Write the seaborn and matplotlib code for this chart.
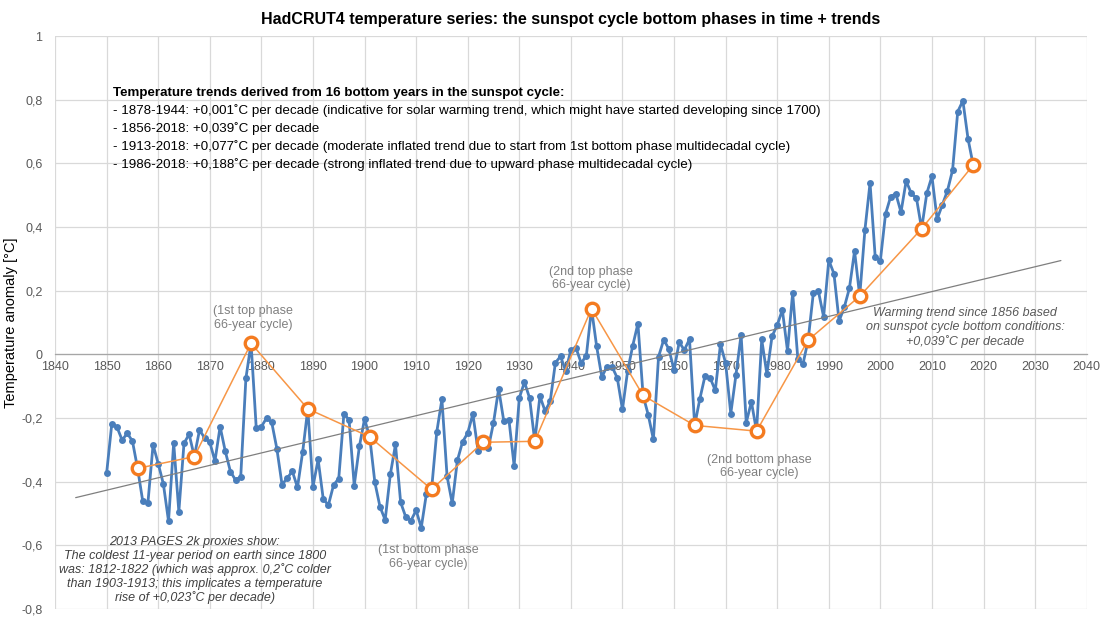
import matplotlib
matplotlib.use("Agg")
import matplotlib.pyplot as plt
import seaborn as sns
import pandas as pd
import numpy as np
from matplotlib.ticker import FixedLocator, FixedFormatter

years = list(range(1850, 2019))
anomaly = [
    -0.373, -0.218, -0.228, -0.269, -0.248, -0.272, -0.358, -0.461, -0.467, -0.284,
    -0.343, -0.407, -0.524, -0.278, -0.494, -0.279, -0.251, -0.321, -0.238, -0.262,
    -0.276, -0.335, -0.227, -0.304, -0.368, -0.395, -0.384, -0.075, 0.035, -0.230,
    -0.227, -0.200, -0.213, -0.296, -0.409, -0.389, -0.367, -0.418, -0.307, -0.171,
    -0.416, -0.330, -0.455, -0.473, -0.410, -0.390, -0.186, -0.206, -0.412, -0.289,
    -0.203, -0.259, -0.402, -0.479, -0.520, -0.377, -0.283, -0.465, -0.511, -0.522,
    -0.490, -0.544, -0.437, -0.424, -0.244, -0.141, -0.383, -0.468, -0.333, -0.275,
    -0.247, -0.187, -0.302, -0.276, -0.294, -0.215, -0.108, -0.210, -0.206, -0.350,
    -0.137, -0.087, -0.137, -0.273, -0.131, -0.178, -0.147, -0.026, -0.006, -0.052,
    0.014, 0.020, -0.027, -0.004, 0.144, 0.025, -0.071, -0.038, -0.039, -0.074,
    -0.173, -0.052, 0.028, 0.097, -0.129, -0.190, -0.267, -0.007, 0.046, 0.017,
    -0.049, 0.038, 0.014, 0.048, -0.223, -0.140, -0.068, -0.074, -0.113, 0.032,
    -0.027, -0.186, -0.065, 0.062, -0.214, -0.149, -0.241, 0.047, -0.062, 0.057,
    0.092, 0.140, 0.011, 0.194, -0.014, -0.030, 0.045, 0.192, 0.198, 0.118,
    0.296, 0.254, 0.105, 0.148, 0.208, 0.325, 0.183, 0.390, 0.539, 0.306,
    0.294, 0.441, 0.496, 0.505, 0.447, 0.545, 0.506, 0.491, 0.395, 0.506,
    0.560, 0.425, 0.470, 0.514, 0.579, 0.763, 0.797, 0.677, 0.595,
]

bottom_years = [1856, 1867, 1878, 1889, 1901, 1913, 1923, 1933, 1944, 1954,
                1964, 1976, 1986, 1996, 2008, 2018]
bottom_values = [-0.358, -0.321, 0.035, -0.171, -0.259, -0.424, -0.276, -0.273,
                 0.144, -0.129, -0.223, -0.241, 0.045, 0.183, 0.395, 0.595]

trend_years = [1844, 2035]
trend_values = [-0.450, 0.295]

xtick_vals = list(range(1840, 2041, 10))
xtick_labels = [str(v) for v in xtick_vals]
ytick_vals = [-0.8, -0.6, -0.4, -0.2, 0.0, 0.2, 0.4, 0.6, 0.8, 1.0]
ytick_labels = ["-0,8", "-0,6", "-0,4", "-0,2", "0", "0,2", "0,4", "0,6", "0,8", "1"]

title = "HadCRUT4 temperature series: the sunspot cycle bottom phases in time + trends"
ylabel = "Temperature anomaly [°C]"
box_header = "Temperature trends derived from 16 bottom years in the sunspot cycle:"
box_lines = [
    "- 1878-1944: +0,001\u02daC per decade (indicative for solar warming trend, which might have started developing since 1700)",
    "- 1856-2018: +0,039\u02daC per decade",
    "- 1913-2018: +0,077\u02daC per decade (moderate inflated trend due to start from 1st bottom phase multidecadal cycle)",
    "- 1986-2018: +0,188\u02daC per decade (strong inflated trend due to upward phase multidecadal cycle)",
]

sns.set_theme(style="whitegrid")
regular = ["Liberation Sans", "DejaVu Sans"]
plt.rcParams["font.family"] = regular

fig = plt.figure(figsize=(11.01, 6.24), dpi=100)
ax = fig.add_axes([0.05, 0.024, 0.937, 0.918])

df = pd.DataFrame({"year": years, "anomaly": anomaly})
dfb = pd.DataFrame({"year": bottom_years, "anomaly": bottom_values})
dft = pd.DataFrame({"year": trend_years, "anomaly": trend_values})

sns.lineplot(data=df, x="year", y="anomaly", ax=ax, color="#4A7EBB", linewidth=2.0,
             marker="o", markersize=5, markeredgewidth=0, markerfacecolor="#4A7EBB", zorder=3)
sns.lineplot(data=dft, x="year", y="anomaly", ax=ax, color="#7F7F7F", linewidth=0.9, zorder=4)
sns.lineplot(data=dfb, x="year", y="anomaly", ax=ax, color="#F79646", linewidth=1.1,
             marker="o", markersize=9, markerfacecolor="white", markeredgecolor="#F47B20",
             markeredgewidth=2.4, zorder=5)

ax.set_xlim(1840, 2040)
ax.set_ylim(-0.8, 1.0)
ax.xaxis.set_major_locator(FixedLocator(xtick_vals))
ax.xaxis.set_major_formatter(FixedFormatter(xtick_labels))
ax.yaxis.set_major_locator(FixedLocator(ytick_vals))
ax.yaxis.set_major_formatter(FixedFormatter(ytick_labels))
ax.grid(True, color="#D9D9D9", linewidth=0.9)
for s in ["top", "right", "left"]:
    ax.spines[s].set_visible(False)
ax.spines["bottom"].set_position(("data", 0))
ax.spines["bottom"].set_color("#A6A6A6")
ax.spines["bottom"].set_linewidth(0.9)
ax.tick_params(axis="x", length=0, pad=5, labelsize=9, labelcolor="#595959")
ax.tick_params(axis="y", length=0, pad=9, labelsize=9, labelcolor="#595959")
ax.set_xlabel("")
ax.set_ylabel(ylabel, fontsize=10.5, color="black", labelpad=2)

fig.text(0.518, 0.968, title, ha="center", va="center", fontsize=11.5,
         fontweight="bold", color="black")

ax.text(1851.2, 0.823, box_header, ha="left", va="center", fontsize=9.6,
        fontweight="bold", color="black")
for i, line in enumerate(box_lines):
    ax.text(1851.2, 0.766 - i * 0.0565, line, ha="left", va="center", fontsize=9.6,
            color="black")

gray = "#808080"
ax.text(1878.4, 0.115, "(1st top phase\n66-year cycle)", ha="center", va="center",
        fontsize=9, color=gray, linespacing=1.15)
ax.text(1943.9, 0.239, "(2nd top phase\n66-year cycle)", ha="center", va="center",
        fontsize=9, color=gray, linespacing=1.15)
ax.text(1912.3, -0.637, "(1st bottom phase\n66-year cycle)", ha="center", va="center",
        fontsize=9, color=gray, linespacing=1.15)
ax.text(1976.6, -0.352, "(2nd bottom phase\n66-year cycle)", ha="center", va="center",
        fontsize=9, color=gray, linespacing=1.15)
ax.text(2016.4, 0.085, "Warming trend since 1856 based\non sunspot cycle bottom conditions:\n+0,039\u02daC per decade",
        ha="center", va="center", fontsize=9, color="#595959", style="italic", linespacing=1.2)
ax.text(1867.1, -0.678,
        "2013 PAGES 2k proxies show:\nThe coldest 11-year period on earth since 1800\n"
        "was: 1812-1822 (which was approx. 0,2\u02daC colder\nthan 1903-1913; this implicates a temperature\n"
        "rise of +0,023\u02daC per decade)",
        ha="center", va="center", fontsize=9, color="#404040", style="italic", linespacing=1.15)

fig.savefig("out.png", dpi=100)
